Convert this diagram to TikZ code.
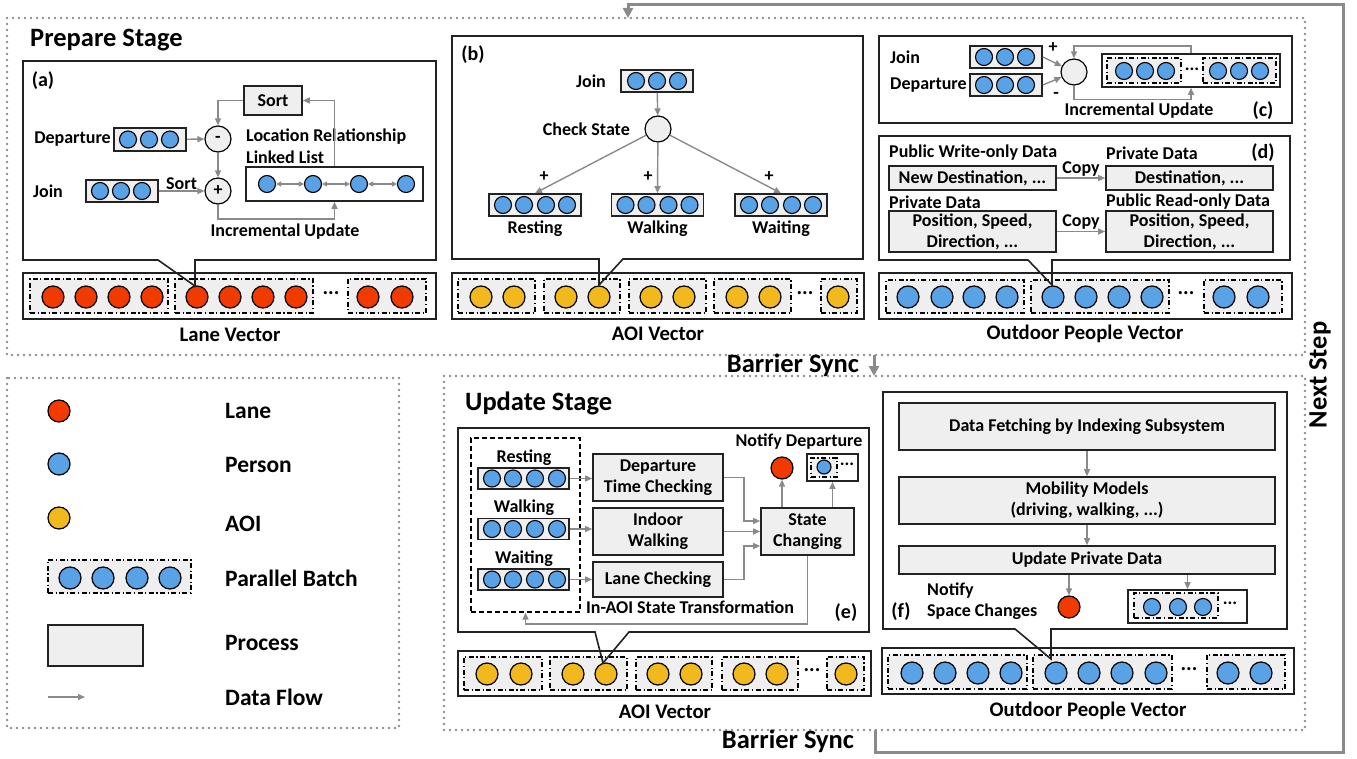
\documentclass[tikz,border=0pt]{standalone}
\usepackage{fontspec}
\setmainfont{Carlito}
\usetikzlibrary{arrows.meta}
\definecolor{laneRed}{HTML}{F03A00}
\definecolor{personBlue}{HTML}{5AA2E6}
\definecolor{aoiYellow}{HTML}{F2B91E}
\definecolor{boxGrey}{HTML}{EFEFEF}
\definecolor{flowGrey}{HTML}{8A8A8A}
\definecolor{dotGrey}{HTML}{8E8E8E}
\definecolor{edgeBlack}{HTML}{222222}
\tikzset{
  lanedot/.style   = {circle, draw=black, fill=laneRed, line width=1.2pt, minimum size=22pt, inner sep=0pt},
  persondot/.style = {circle, draw=black, fill=personBlue, line width=1.2pt, minimum size=22pt, inner sep=0pt},
  aoidot/.style    = {circle, draw=black, fill=aoiYellow, line width=1.2pt, minimum size=22pt, inner sep=0pt},
  rowdot/.style    = {circle, draw=black, fill=personBlue, line width=1.1pt, minimum size=17pt, inner sep=0pt},
  batch/.style     = {draw=black, fill=boxGrey, line width=1.1pt, inner sep=0pt,
                      dash pattern=on 5pt off 2.5pt on 1.2pt off 2.5pt},
  rowbox/.style    = {draw=edgeBlack, fill=boxGrey, line width=1.6pt, inner sep=0pt},
  procbox/.style   = {draw=edgeBlack, fill=boxGrey, line width=1.6pt, inner sep=0pt, align=center},
  vecbox/.style    = {draw=edgeBlack, fill=white, line width=1.6pt, inner sep=0pt},
  panel/.style     = {draw=edgeBlack, line width=1.6pt},
  dashbox/.style   = {draw=black, line width=1.2pt, dash pattern=on 5pt off 3pt, inner sep=0pt},
  stagebox/.style  = {draw=dotGrey, line width=2.6pt, dash pattern=on 0pt off 6pt, line cap=round},
  opcirc/.style    = {circle, draw=black, fill=boxGrey, line width=1.2pt, minimum size=26pt, inner sep=0pt},
  flow/.style      = {-{Triangle[length=7pt,width=6pt]}, flowGrey, line width=1.4pt},
  twoway/.style    = {{Triangle[length=5pt,width=5pt]}-{Triangle[length=5pt,width=5pt]}, flowGrey, line width=1.1pt},
  loopflow/.style  = {-{Triangle[length=10pt,width=10pt]}, flowGrey, line width=3pt},
  lbl/.style       = {inner sep=1pt, text=black},
  taglbl/.style    = {font=\fontsize{20}{24}\selectfont\bfseries, inner sep=0pt},
  stagelbl/.style  = {font=\fontsize{26.5}{30}\selectfont\bfseries, inner sep=0pt},
  legendlbl/.style = {font=\fontsize{23.5}{27}\selectfont\bfseries, anchor=west, inner sep=0pt},
  veclbl/.style    = {font=\fontsize{20.7}{24}\selectfont\bfseries, inner sep=0pt},
  etc/.style       = {font=\fontsize{21}{24}\selectfont\bfseries, inner sep=0pt},
}
\begin{document}
\begin{tikzpicture}[x=1pt, y=-1pt, font=\fontsize{18}{21}\selectfont\bfseries]
  \useasboundingbox (0,0) rectangle (1357,759);

  % stages
  \draw[stagebox] (7,18) rectangle (1305,355);
  \draw[stagebox] (444,376) rectangle (1305,730);
  \draw[stagebox] (7,378) rectangle (399,728);
  \node[stagelbl, anchor=west] (prepLbl) at (30,40) {Prepare Stage};
  \node[stagelbl, anchor=west] (updLbl) at (465,403) {Update Stage};
  \node[stagelbl] (syncTop) at (793,365) {Barrier Sync};
  \node[stagelbl] (syncBot) at (788,741) {Barrier Sync};
  \node[stagelbl, rotate=90] (nextLbl) at (1320,375) {Next Step};
  \coordinate (prepBot) at (874,355);
  \coordinate (updTop) at (874,376);
  \coordinate (updBot) at (875,730);
  \coordinate (loopA) at (875,752);
  \coordinate (loopB) at (1343,752);
  \coordinate (loopC) at (1343,5);
  \coordinate (loopD) at (628,5);
  \coordinate (prepTop) at (628,18);
  \draw[loopflow] (prepBot) -- (updTop);
  \draw[loopflow] (updBot) -- (loopA) -- (loopB) -- (loopC) -- (loopD) -- (prepTop);

  % lane vector + (a)
  \node[vecbox, minimum width=413, minimum height=46] (laneVec) at (229.5,296) {};
  \node[batch, minimum width=138, minimum height=34] (laneB1) at (99,296) {};
  \node[batch, minimum width=138, minimum height=34] (laneB2) at (244,296) {};
  \node[batch, minimum width=78, minimum height=34] (laneB3) at (387,296) {};
  \foreach \x in {53,86,119,152,197,230,263,296,368,402}
    \node[lanedot] (lane\x) at (\x,297) {};
  \node[etc] (laneEtc) at (331,293) {...};
  \node[veclbl] (laneLbl) at (230,335) {Lane Vector};
  \draw[panel] (195,286) -- (195,260) -- (436,260) -- (436,61) -- (23,61) -- (23,260) -- (158,260) -- cycle;

  \node[taglbl] (tagA) at (43,81) {(a)};
  \node[procbox, minimum width=58, minimum height=29] (sortA) at (273,100.5) {Sort};
  \node[opcirc] (minusA) at (218,139) {-};
  \node[opcirc] (plusA) at (218,191) {+};
  \node[rowbox, minimum width=72, minimum height=23] (depA) at (150,139.5) {};
  \foreach \x in {128,149,170} \node[rowdot] (depA\x) at (\x,139.5) {};
  \node[lbl, anchor=east] (depAlbl) at (112,139) {Departure};
  \node[rowbox, minimum width=72, minimum height=22] (joinA) at (122,191) {};
  \foreach \x in {100,121,142} \node[rowdot] (joinA\x) at (\x,191) {};
  \node[lbl] (joinAlbl) at (48,191) {Join};
  \node[vecbox, minimum width=177, minimum height=34] (listA) at (334.5,184) {};
  \foreach \x [count=\i] in {267,313,359,406} \node[rowdot] (ll\i) at (\x,184) {};
  \foreach \i/\j in {1/2,2/3,3/4} \draw[twoway] (ll\i) -- (ll\j);
  \node[lbl, anchor=west] (listLbl1) at (245,137) {Location Relationship};
  \node[lbl, anchor=west] (listLbl2) at (245,157) {Linked List};
  \draw[flow] (depA) -- (minusA);
  \draw[flow] (joinA) -- node[lbl, above] {Sort} (plusA);
  \draw[flow] (minusA) -- (plusA);
  \draw[flow] (sortA) -| (minusA);
  \draw[flow] (listA.north) |- (sortA);
  \draw[flow] (plusA) -- ++(0,28) -| (listA.south);
  \node[lbl] (incA) at (285,232) {Incremental Update};

  % AOI vector + (b)
  \node[vecbox, minimum width=412, minimum height=46] (aoiVec) at (658,296) {};
  \foreach \x/\w [count=\i] in {496.5/77, 582/76, 667.5/77, 752.5/77, 839/36}
    \node[batch, minimum width=\w, minimum height=34] (aoiB\i) at (\x,296) {};
  \foreach \x in {481,514,566,599,651,684,737,770,838}
    \node[aoidot] (aoi\x) at (\x,297) {};
  \node[etc] (aoiEtc) at (805,293) {...};
  \node[veclbl] (aoiLbl) at (658,334) {AOI Vector};
  \draw[panel] (599,285) -- (599,259) -- (452,259) -- (452,36) -- (863,36) -- (863,259) -- (623,259) -- cycle;

  \node[taglbl] (tagB) at (473,55) {(b)};
  \node[rowbox, minimum width=72, minimum height=22] (joinB) at (657,81) {};
  \foreach \x in {636,657,678} \node[rowdot] (joinB\x) at (\x,81) {};
  \node[lbl] (joinBlbl) at (591,81) {Join};
  \node[opcirc] (checkB) at (658,129) {};
  \node[lbl, anchor=east] (checkBlbl) at (631,129) {Check State};
  \draw[flow] (joinB) -- (checkB);
  \foreach \n/\x/\p/\t in {restB/535/544/Resting, walkB/657.5/648/Walking, waitB/781/769/Waiting}{
    \node[rowbox, minimum width=92, minimum height=22] (\n) at (\x,205) {};
    \foreach \d [count=\k] in {-32,-11,11,32} \node[rowdot] (\n\k) at ({\x+\d},205) {};
    \node[lbl] (\n lbl) at (\x,229) {\t};
    \node[lbl] (\n plus) at (\p,177) {+};
    \draw[flow] (checkB) -- (\n.north);
  }

  % (c)
  \draw[panel] (879,36) rectangle (1292,123);
  \node[lbl, anchor=west] (joinClbl) at (889,57) {Join};
  \node[lbl, anchor=west] (depClbl) at (889,85) {Departure};
  \node[rowbox, minimum width=72, minimum height=22] (joinC) at (1006,57) {};
  \node[rowbox, minimum width=72, minimum height=22] (depC) at (1006,85) {};
  \foreach \x in {984,1005,1026} {
    \node[rowdot] (joinC\x) at (\x,57) {};
    \node[rowdot] (depC\x) at (\x,85) {};
  }
  \node[opcirc] (opC) at (1074,72) {};
  \node[lbl] (plusC) at (1053,48) {+};
  \node[lbl] (minusC) at (1056,95) {-};
  \draw[flow] (joinC.east) -- (opC);
  \draw[flow] (depC.east) -- (opC);
  \node[vecbox, minimum width=178, minimum height=33] (vecC) at (1191,70.5) {};
  \node[batch, minimum width=74, minimum height=25] (vecC1) at (1144,70.5) {};
  \node[batch, minimum width=73, minimum height=25] (vecC2) at (1239.5,70.5) {};
  \foreach \x in {1124,1145,1166,1218,1239,1260} \node[rowdot] (pc\x) at (\x,71) {};
  \node[lbl, inner sep=0pt] (vecCetc) at (1192,69) {...};
  \draw[flow] (vecC.north) -- ++(0,-7) -| (opC.north);
  \draw[flow] (opC.south) -- ++(0,14) -| (vecC.south);
  \node[lbl] (incC) at (1139,111) {Incremental Update};
  \node[taglbl] (tagC) at (1263,111) {(c)};

  % outdoor vector + (d)
  \node[vecbox, minimum width=413, minimum height=46] (outVec) at (1085.5,296) {};
  \node[batch, minimum width=138, minimum height=33] (outB1) at (955,296.5) {};
  \node[batch, minimum width=138, minimum height=33] (outB2) at (1100,296.5) {};
  \node[batch, minimum width=78, minimum height=33] (outB3) at (1243,296.5) {};
  \foreach \x in {908,942,974,1007,1053,1086,1119,1152,1224,1258}
    \node[persondot] (out\x) at (\x,297) {};
  \node[etc] (outEtc) at (1186,293) {...};
  \node[veclbl] (outLbl) at (1085,334) {Outdoor People Vector};
  \draw[panel] (1052,285) -- (1052,260) -- (1290,260) -- (1290,136) -- (879,136) -- (879,260) -- (1028,260) -- cycle;

  \node[lbl, anchor=west] (pubWLbl) at (888,153) {Public Write-only Data};
  \node[lbl, anchor=west] (privLbl1) at (1105,153) {Private Data};
  \node[taglbl] (tagD) at (1263,153) {(d)};
  \node[procbox, minimum width=167, minimum height=24] (newDest) at (972.5,178) {New Destination, ...};
  \node[procbox, minimum width=167, minimum height=24] (dest) at (1189.5,178) {Destination, ...};
  \draw[flow] (newDest) -- node[lbl, above] {Copy} (dest);
  \node[lbl, anchor=west] (privLbl2) at (888,202) {Private Data};
  \node[lbl, anchor=west] (pubRLbl) at (1105,202) {Public Read-only Data};
  \node[procbox, minimum width=167, minimum height=41] (posPriv) at (972.5,231.5) {Position, Speed,\\Direction, ...};
  \node[procbox, minimum width=167, minimum height=41] (posPub) at (1189.5,231.5) {Position, Speed,\\Direction, ...};
  \draw[flow] (posPriv) -- node[lbl, above] {Copy} (posPub);

  % legend
  \node[lanedot] (legLane) at (59,411) {};
  \node[persondot] (legPerson) at (59,464) {};
  \node[aoidot] (legAoi) at (59,518) {};
  \node[batch, minimum width=143, minimum height=33] (legBatch) at (119.5,576.5) {};
  \foreach \x in {70,103,137,170} \node[persondot] (legB\x) at (\x,578) {};
  \node[procbox, minimum width=95, minimum height=41] (legProc) at (95.5,645.5) {};
  \coordinate (legFlowA) at (48,697);
  \coordinate (legFlowB) at (85,697);
  \draw[flow] (legFlowA) -- (legFlowB);
  \node[legendlbl] (legLaneLbl) at (225,411) {Lane};
  \node[legendlbl] (legPersonLbl) at (225,465) {Person};
  \node[legendlbl] (legAoiLbl) at (225,524) {AOI};
  \node[legendlbl] (legBatchLbl) at (225,578) {Parallel Batch};
  \node[legendlbl] (legProcLbl) at (225,643) {Process};
  \node[legendlbl] (legFlowLbl) at (225,697) {Data Flow};

  % AOI vector + (e)
  \node[vecbox, minimum width=413, minimum height=45] (aoiVec2) at (664.5,673.5) {};
  \foreach \x/\w [count=\i] in {503/78, 588.5/77, 674/76, 760/76, 845.5/37}
    \node[batch, minimum width=\w, minimum height=33] (aoiC\i) at (\x,673.5) {};
  \foreach \x in {487,521,573,606,658,691,744,777,846}
    \node[aoidot] (aoiu\x) at (\x,674) {};
  \node[etc] (aoiEtc2) at (812,670) {...};
  \node[veclbl] (aoiLbl2) at (665,712) {AOI Vector};
  \draw[panel] (595,632) -- (458,632) -- (458,428) -- (869,428) -- (869,632) -- (629,632) -- (603,663) -- cycle;

  \node[dashbox, minimum width=109, minimum height=174] (inAoi) at (525.5,525) {};
  \foreach \n/\y/\t in {restE/478.5/Resting, walkE/529/Walking, waitE/579.5/Waiting}{
    \node[rowbox, minimum width=91, minimum height=21] (\n) at (523.5,\y) {};
    \foreach \x [count=\k] in {492,513,535,557} \node[rowdot] (\n\k) at (\x,\y) {};
    \node[lbl] (\n lbl) at (524,{\y-21}) {\t};
  }
  \node[procbox, minimum width=130, minimum height=47] (depCheck) at (658,477.5) {Departure\\Time Checking};
  \node[procbox, minimum width=130, minimum height=47] (indoor) at (658,531.5) {Indoor\\Walking};
  \node[procbox, minimum width=130, minimum height=35] (laneCheck) at (658,579.5) {Lane Checking};
  \node[procbox, minimum width=93, minimum height=47] (stateChg) at (807.5,531.5) {State\\Changing};
  \draw[flow] (restE.east) -- (restE.east -| depCheck.west);
  \draw[flow] (walkE.east) -- (walkE.east -| indoor.west);
  \draw[flow] (waitE.east) -- (waitE.east -| laneCheck.west);
  \draw[flow] (depCheck.east) -- ++(20,0) |- ([yshift=10.5pt]stateChg.west);
  \draw[flow] (indoor.east) -- (stateChg.west);
  \draw[flow] (laneCheck.east) -- ++(20,0) |- ([yshift=-14.5pt]stateChg.west);
  \node[lanedot] (depDot) at (782,468) {};
  \node[vecbox, minimum width=51, minimum height=27] (notifyE) at (832.5,467.5) {};
  \node[batch, minimum width=26, minimum height=19] (notifyEb) at (824,467.5) {};
  \node[rowdot, minimum size=14pt] (notifyEp) at (824,467) {};
  \node[lbl, inner sep=0pt] (notifyEetc) at (847,464) {...};
  \draw[flow] (stateChg.north -| depDot) -- (depDot);
  \draw[flow] (stateChg.north -| notifyE) -- (notifyE.south);
  \node[lbl] (notifyLbl) at (799,442) {Notify Departure};
  \draw[flow] (stateChg.south) -- ++(0,68) -| (inAoi.south);
  \node[lbl] (inAoiLbl) at (690,607) {In-AOI State Transformation};
  \node[taglbl] (tagE) at (846,613) {(e)};

  % outdoor vector + (f)
  \node[vecbox, minimum width=412, minimum height=46] (outVec2) at (1088,671) {};
  \node[batch, minimum width=139, minimum height=34] (outC1) at (957.5,672) {};
  \node[batch, minimum width=139, minimum height=34] (outC2) at (1102.5,672) {};
  \node[batch, minimum width=78, minimum height=34] (outC3) at (1246,672) {};
  \foreach \x in {912,945,978,1011,1056,1089,1122,1156,1228,1261}
    \node[persondot] (outu\x) at (\x,673) {};
  \node[etc] (outEtc2) at (1189,669) {...};
  \node[veclbl] (outLbl2) at (1088,711) {Outdoor People Vector};
  \draw[panel] (1051,659) -- (1051,629) -- (1287,629) -- (1287,392) -- (883,392) -- (883,629) -- (1015,629) -- cycle;

  \node[procbox, minimum width=376, minimum height=47] (fetch) at (1087,426.5) {Data Fetching by Indexing Subsystem};
  \node[procbox, minimum width=376, minimum height=47] (mobility) at (1087,500.5) {Mobility Models\\(driving, walking, ...)};
  \node[procbox, minimum width=376, minimum height=28] (updPriv) at (1087,560) {Update Private Data};
  \draw[flow] (fetch) -- (mobility);
  \draw[flow] (mobility) -- (updPriv);
  \node[lanedot] (spaceDot) at (1069,607) {};
  \node[vecbox, minimum width=119, minimum height=33] (notifyF) at (1187.5,606.5) {};
  \node[batch, minimum width=84, minimum height=25] (notifyFb) at (1176,605.5) {};
  \foreach \x in {1152,1178,1203} \node[rowdot] (nf\x) at (\x,607) {};
  \node[lbl, inner sep=0pt] (notifyFetc) at (1230,603) {...};
  \draw[flow] (updPriv.south -| spaceDot) -- (spaceDot);
  \draw[flow] (updPriv.south -| notifyF) -- (notifyF.north);
  \node[lbl, anchor=west] (spaceLbl1) at (926,591) {Notify};
  \node[lbl, anchor=west] (spaceLbl2) at (926,612) {Space Changes};
  \node[taglbl] (tagF) at (901,612) {(f)};
\end{tikzpicture}
\end{document}
